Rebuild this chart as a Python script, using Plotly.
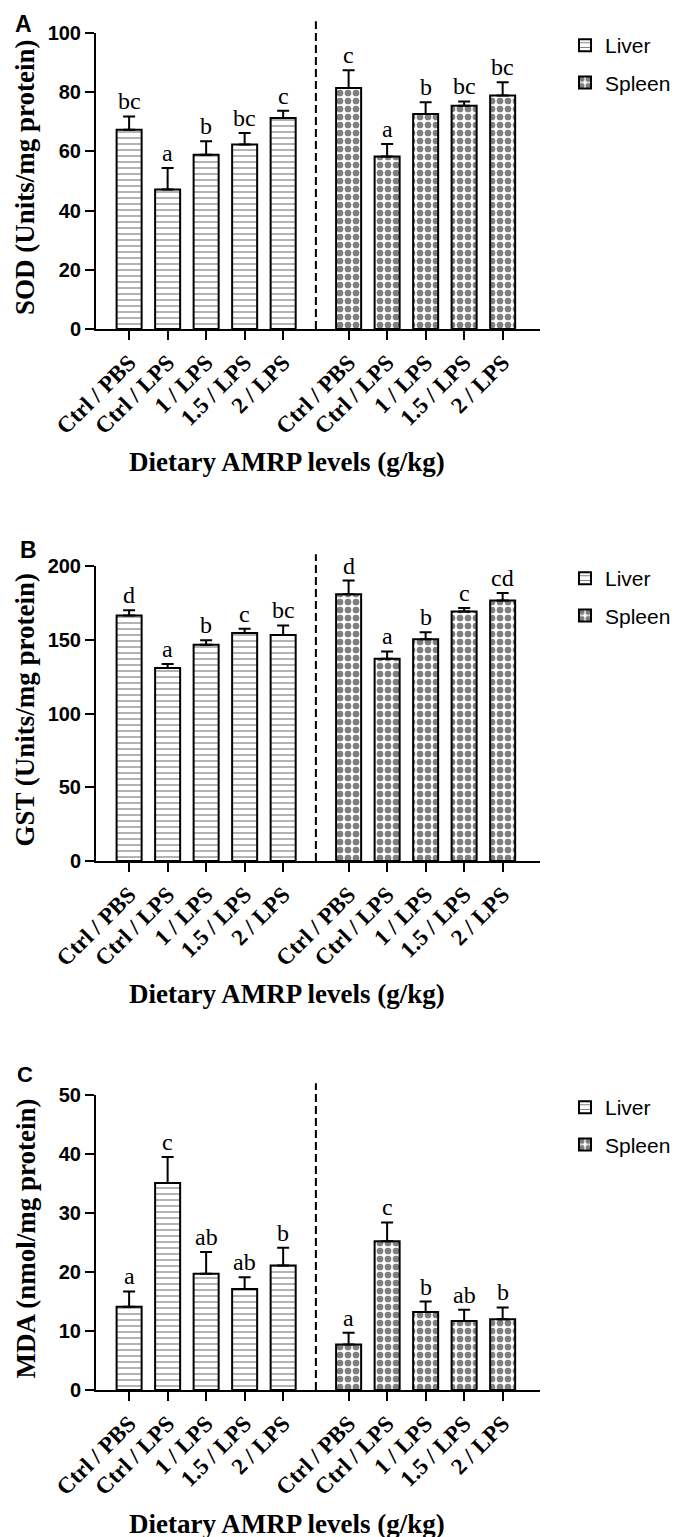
import plotly.graph_objects as go

# ---------------- data ----------------
groups = ["Ctrl / PBS", "Ctrl / LPS", "1 / LPS", "1.5 / LPS", "2 / LPS"]
tissues = ["Liver", "Spleen"]

sod_liver = [67.3, 47.1, 58.9, 62.3, 71.3]
sod_liver_err = [4.5, 7.3, 4.5, 3.9, 2.4]
sod_spleen = [81.4, 58.3, 72.6, 75.4, 78.9]
sod_spleen_err = [6.0, 4.2, 4.0, 1.5, 4.5]
sod_liver_sig = ["bc", "a", "b", "bc", "c"]
sod_spleen_sig = ["c", "a", "b", "bc", "bc"]

gst_liver = [166.4, 130.8, 146.6, 154.5, 153.3]
gst_liver_err = [3.6, 2.7, 3.0, 2.9, 6.4]
gst_spleen = [180.9, 137.1, 150.4, 169.1, 176.6]
gst_spleen_err = [9.2, 5.0, 4.7, 2.5, 5.1]
gst_liver_sig = ["d", "a", "b", "c", "bc"]
gst_spleen_sig = ["d", "a", "b", "c", "cd"]

mda_liver = [14.1, 35.1, 19.7, 17.1, 21.1]
mda_liver_err = [2.6, 4.4, 3.7, 2.0, 3.0]
mda_spleen = [7.7, 25.2, 13.2, 11.7, 12.0]
mda_spleen_err = [2.0, 3.2, 1.8, 1.9, 2.0]
mda_liver_sig = ["a", "c", "ab", "ab", "b"]
mda_spleen_sig = ["a", "c", "b", "ab", "b"]

panel_labels = ["A", "B", "C"]
y_titles = ["SOD (Units/mg protein)", "GST (Units/mg protein)", "MDA (nmol/mg protein)"]
x_title = "Dietary AMRP levels (g/kg)"
y_max = [100, 200, 50]
y_dtick = [20, 50, 10]

panels = [
    (sod_liver, sod_liver_err, sod_liver_sig, sod_spleen, sod_spleen_err, sod_spleen_sig),
    (gst_liver, gst_liver_err, gst_liver_sig, gst_spleen, gst_spleen_err, gst_spleen_sig),
    (mda_liver, mda_liver_err, mda_liver_sig, mda_spleen, mda_spleen_err, mda_spleen_sig),
]

# ---------------- layout geometry ----------------
W, H = 685, 1537
GAP = 5.7          # offset of spleen group on the numeric x axis
DIVIDER = 4.85
BAR_W = 0.65
liver_pos = [i for i in range(len(groups))]
spleen_pos = [GAP + i for i in range(len(groups))]

x_dom = [88 / W, 532 / W]
plot_px = [(25, 321), (558, 853), (1087, 1382)]   # top, bottom in px
xtitle_px = [454, 986, 1516]
label_px = [(16, 16, 23), (20, 542, 23), (17, 1066, 22)]

SERIF = "Liberation Serif"
SANS = "Liberation Sans"

liver_marker = dict(
    color="white",
    line=dict(color="black", width=2),
    pattern=dict(shape="-", size=6, solidity=0.2, fgcolor="black", bgcolor="white"),
)
spleen_marker = dict(
    color="white",
    line=dict(color="black", width=2),
    pattern=dict(shape=".", size=8, solidity=0.55, fgcolor="black", bgcolor="white"),
)

fig = go.Figure()
annotations = []
shapes = []
layout = {}

for p, (lv, le, ls, sv, se, ss) in enumerate(panels):
    n = p + 1
    xa = "x" if n == 1 else f"x{n}"
    ya = "y" if n == 1 else f"y{n}"
    lg = "legend" if n == 1 else f"legend{n}"
    for name, pos, vals, errs, marker in [
        (tissues[0], liver_pos, lv, le, liver_marker),
        (tissues[1], spleen_pos, sv, se, spleen_marker),
    ]:
        fig.add_trace(go.Bar(
            x=pos, y=vals, width=BAR_W, name=name,
            marker=marker,
            error_y=dict(type="data", symmetric=False, array=errs,
                         arrayminus=[0] * len(errs), color="black",
                         thickness=2, width=6),
            xaxis=xa, yaxis=ya, legend=lg, legendgroup=f"{name}{n}",
            showlegend=True,
        ))
    for pos, vals, errs, sig in [(liver_pos, lv, le, ls), (spleen_pos, sv, se, ss)]:
        for xv, v, e, s in zip(pos, vals, errs, sig):
            annotations.append(dict(
                x=xv, y=v + e, xref=xa, yref=ya, text=s, showarrow=False,
                yanchor="bottom", yshift=0,
                font=dict(family=SERIF, size=24, color="black"),
            ))

    top, bot = plot_px[p]
    ydom = [1 - bot / H, 1 - top / H]
    layout[f"xaxis{'' if n == 1 else n}"] = dict(
        domain=x_dom, anchor=ya, range=[-0.86, 10.67],
        tickmode="array", tickvals=liver_pos + spleen_pos, ticktext=groups + groups,
        tickangle=-45, ticks="outside", ticklen=9, tickwidth=2, tickcolor="black",
        showline=True, linewidth=2, linecolor="black", showgrid=False, zeroline=False,
        tickfont=dict(family=SERIF, size=23, color="black", weight="bold"),
    )
    layout[f"yaxis{'' if n == 1 else n}"] = dict(
        domain=ydom, anchor=xa, range=[0, y_max[p]], dtick=y_dtick[p],
        ticks="outside", ticklen=9, tickwidth=2, tickcolor="black",
        showline=True, linewidth=2, linecolor="black", showgrid=False, zeroline=False,
        tickfont=dict(family=SANS, size=20, color="black", weight="bold"),
    )
    layout[lg] = dict(
        x=557 / W, y=1 - (top - 8) / H, xanchor="left", yanchor="top",
        xref="paper", yref="paper", bgcolor="rgba(0,0,0,0)",
        font=dict(family=SANS, size=21, color="black"),
        tracegroupgap=7, itemwidth=30,
    )
    shapes.append(dict(
        type="line", xref=xa, yref=f"{ya} domain", x0=DIVIDER, x1=DIVIDER,
        y0=0, y1=1.04, line=dict(color="black", width=2, dash="8px,4px"),
    ))
    # axis titles
    annotations.append(dict(
        x=17 / W, y=1 - ((top + bot) / 2 - 4) / H, xref="paper", yref="paper",
        text=y_titles[p], textangle=-90, showarrow=False,
        xanchor="center", yanchor="middle",
        font=dict(family=SERIF, size=27, color="black", weight="bold"),
    ))
    annotations.append(dict(
        x=279 / W, y=1 - xtitle_px[p] / H, xref="paper", yref="paper",
        text=x_title, showarrow=False, xanchor="center", yanchor="middle",
        font=dict(family=SERIF, size=27, color="black", weight="bold"),
    ))
    lx, ly, ls_ = label_px[p]
    annotations.append(dict(
        x=lx / W, y=1 - ly / H, xref="paper", yref="paper",
        text=panel_labels[p], showarrow=False, xanchor="center", yanchor="middle",
        font=dict(family=SANS, size=ls_, color="black", weight="bold"),
    ))

fig.update_layout(
    width=W, height=H,
    margin=dict(l=0, r=0, t=0, b=0, autoexpand=False),
    paper_bgcolor="white", plot_bgcolor="white",
    annotations=annotations, shapes=shapes,
    barmode="overlay",
    **layout,
)

fig.write_html("out.html")
